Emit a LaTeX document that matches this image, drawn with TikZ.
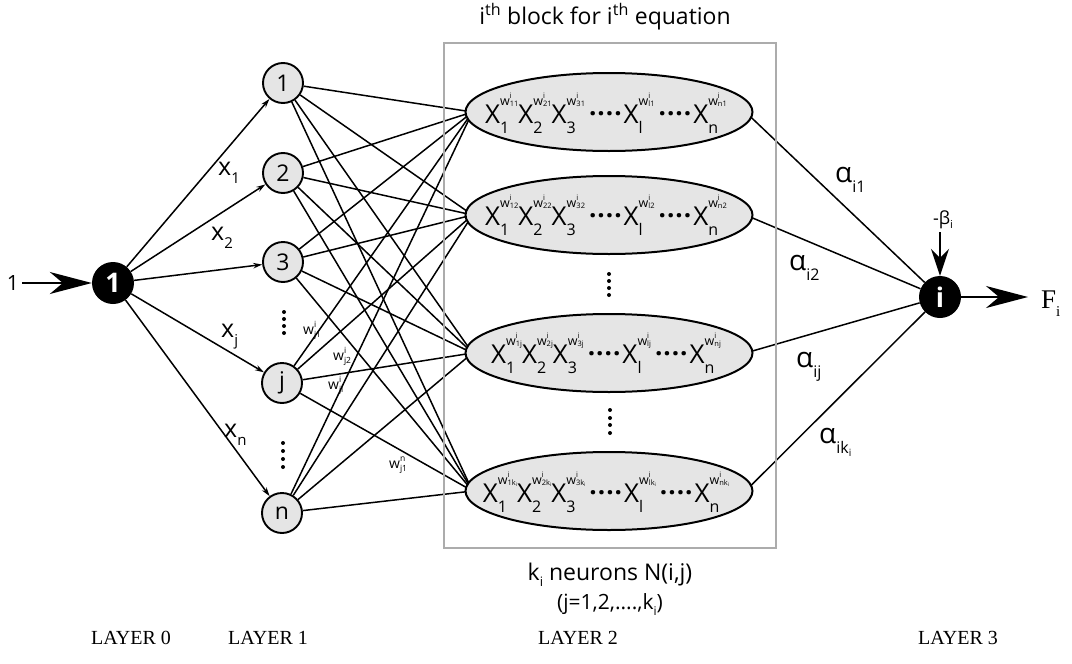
\documentclass[tikz,border=0pt]{standalone}
\usepackage{fontspec}
\setmainfont{Open Sans}
\newfontfamily\serifont{Liberation Serif}
\usetikzlibrary{arrows.meta,shapes.geometric}
\pgfdeclarelayer{bg}
\pgfsetlayers{bg,main}
\definecolor{nodegray}{RGB}{229,229,229}
\definecolor{boxgray}{RGB}{172,172,172}
\newcommand\fs[1]{\fontsize{#1}{#1}\selectfont}
\newcommand\wsup[1]{\fs{12.5}w\rlap{\raisebox{6.5pt}{\fs{7.5}i}}\raisebox{-1.5pt}{\fs{7.5}#1}}
\newcommand\term[2]{X\rlap{\raisebox{-10pt}{\fs{16}#1}}\raisebox{18pt}{\wsup{#2}}}
\newcommand\hd{\kern4pt\raisebox{8pt}{\textbf{.\kern1pt.\kern1pt.\kern1pt.}}\kern2pt}
\newcommand\kki{\raisebox{-1pt}{\fs{5}i}}
\newcommand\wlab[2]{\fs{14}w\rlap{\raisebox{7pt}{\fs{8.5}#1}}\raisebox{-3pt}{\fs{8.5}#2}}
\newcommand\xlab[1]{\fs{25}x\raisebox{-8pt}{\fs{15}#1}}
\newcommand\alab[1]{\fs{28}α\raisebox{-10pt}{\fs{16}#1}}
\begin{document}
\begin{tikzpicture}[x=1pt,y=-1pt,
  l1/.style={circle, draw, line width=1.9pt, fill=nodegray, minimum size=40pt, inner sep=0pt, font=\fs{23}},
  bnode/.style={circle, fill=black, minimum size=42pt, inner sep=0pt, text=white, font=\fs{27}\bfseries},
  neuron/.style={ellipse, draw, line width=2pt, fill=nodegray, minimum width=287pt, minimum height=78pt, inner sep=0pt},
  blk/.style={draw=boxgray, line width=2.5pt, minimum width=332pt, minimum height=505pt, inner sep=0pt},
  conn/.style={line width=1.5pt},
  inarrow/.style={line width=1.5pt, -{Stealth[length=9pt,width=5.5pt]}},
  bigarrow/.style={line width=1.7pt, -{Stealth[length=42pt,width=22pt,inset=13pt]}},
  midarrow/.style={line width=1.5pt, -{Stealth[length=27pt,width=18pt,inset=9pt]}},
  eqtext/.style={anchor=base, font=\fs{26}, inner sep=0pt},
  lab/.style={anchor=base west, inner sep=0pt},
  txt/.style={font=\fs{23}, inner sep=0pt},
  layerlab/.style={font=\serifont\fs{20}, inner sep=0pt, anchor=base}
]
\useasboundingbox (0,0) rectangle (1072,664);

% block
\node[blk] (blk) at (610,295.5) {};

% nodes
\node[bnode] (n0) at (113,283) {1};
\node[l1] (a1) at (283,83) {1};
\node[l1] (a2) at (283,173) {2};
\node[l1] (a3) at (283,262) {3};
\node[l1] (aj) at (282,383) {j};
\node[l1] (an) at (282,513) {n};
\node[bnode] (i) at (940,297) {i};

\node[neuron] (e1) at (609,112) {};
\node[neuron] (e2) at (609,215) {};
\node[neuron] (e3) at (609,353) {};
\node[neuron] (e4) at (609,491) {};

\node[eqtext] (t1) at (606,123) {\term{1}{11}\term{2}{21}\term{3}{31}\hd\term{l}{l1}\hd\term{n}{n1}};
\node[eqtext] (t2) at (606,225) {\term{1}{12}\term{2}{22}\term{3}{32}\hd\term{l}{l2}\hd\term{n}{n2}};
\node[eqtext] (t3) at (606,363) {\term{1}{1j}\term{2}{2j}\term{3}{3j}\hd\term{l}{lj}\hd\term{n}{nj}};
\node[eqtext] (t4) at (606,502) {\term{1}{1k\kki}\term{2}{2k\kki}\term{3}{3k\kki}\hd\term{l}{lk\kki}\hd\term{n}{nk\kki}};

% connectors behind
\begin{pgfonlayer}{bg}
\foreach \a in {a1,a2,a3,aj,an}
  \foreach \e in {e1,e2,e3,e4}
    \draw[conn] (\a) -- ([xshift=8pt]\e.west);
\foreach \e in {e1,e2,e3,e4}
  \draw[conn] ([xshift=-8pt]\e.east) -- (i);
\end{pgfonlayer}

% layer 0 -> layer 1
\foreach \a in {a1,a2,a3,aj,an}
  \draw[inarrow] (n0) -- (\a);

% input and output
\node[txt, anchor=base, font=\fs{21}] (inp) at (13,290) {1};
\draw[bigarrow, shorten <=3pt] (inp.east |- n0) -- (n0);
\node[anchor=base west, inner sep=0pt, font=\serifont\fs{27}] (fi) at (1041,308) {F\raisebox{-8pt}{\fs{15}i}};
\draw[bigarrow, shorten >=13pt] (i.east) -- (i.east -| fi.west);
\node[inner sep=0pt, font=\fs{18}] (beta) at (943,220) {-β\raisebox{-4pt}{\fs{11}i}};
\draw[midarrow] (i.north |- beta.south) ++(0,3) coordinate (bs) (bs) -- (i.north);

% vertical dots
\foreach \yy in {312,319,326,333} \fill (284,\yy) circle[radius=2pt];
\foreach \yy in {443,451,459,467} \fill (283,\yy) circle[radius=2pt];
\foreach \yy in {274,281,288,295} \fill (609,\yy) circle[radius=2pt];
\foreach \yy in {410,418,425,433} \fill (610,\yy) circle[radius=2pt];

% x labels
\node[lab] (x1) at (218,175) {\xlab{1}};
\node[lab] (x2) at (211,240) {\xlab{2}};
\node[lab] (xj) at (221,337) {\xlab{j}};
\node[lab] (xn) at (224,437) {\xlab{n}};

% weight labels
\node[lab] (w1) at (303,334) {\wlab{i}{j1}};
\node[lab] (w2) at (333,360) {\wlab{i}{j2}};
\node[lab] (w3) at (328,389) {\wlab{i}{jl}};
\node[lab] (w4) at (389,468) {\wlab{n}{j1}};

% alpha labels
\node[lab] (al1) at (835,182) {\alab{i1}};
\node[lab] (al2) at (789,270) {\alab{i2}};
\node[lab] (al3) at (796,367) {\alab{ij}};
\node[lab] (al4) at (819,443) {\alab{ik\raisebox{-3pt}{\fs{10}i}}};

% texts
\node[txt] (title) at (605,17) {i\textsuperscript{th} block for i\textsuperscript{th} equation};
\node[txt] (kn) at (610,575) {k\raisebox{-6pt}{\fs{13}i} neurons N(i,j)};
\node[txt, font=\fs{21}] (jr) at (610,605) {(j=1,2,....,k\raisebox{-6pt}{\fs{12}i})};

\node[layerlab] (L0) at (131,644) {LAYER 0};
\node[layerlab] (L1) at (268,644) {LAYER 1};
\node[layerlab] (L2) at (578,644) {LAYER 2};
\node[layerlab] (L3) at (958,644) {LAYER 3};
\end{tikzpicture}
\end{document}
